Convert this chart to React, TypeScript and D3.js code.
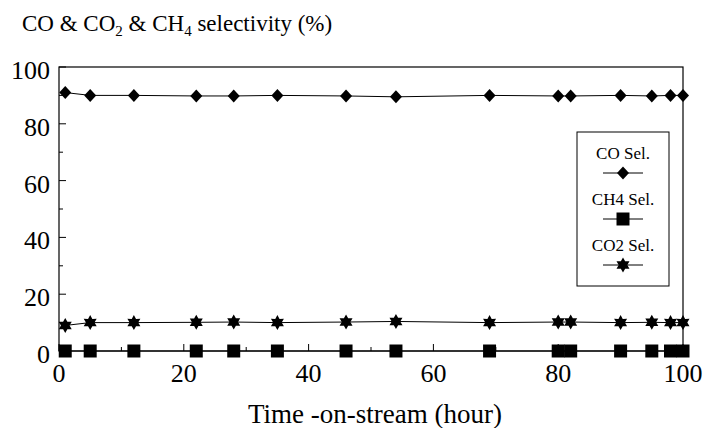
import React from 'react';
import * as d3 from 'd3';

// data
const hours = [1, 5, 12, 22, 28, 35, 46, 54, 69, 80, 82, 90, 95, 98, 100];
const coSel = [91, 90, 90, 89.8, 89.8, 90, 89.8, 89.5, 90, 89.8, 89.8, 90, 89.8, 90, 90];
const ch4Sel = [0, 0, 0, 0, 0, 0, 0, 0, 0, 0, 0, 0, 0, 0, 0];
const co2Sel = [9, 10, 10, 10.1, 10.2, 10, 10.2, 10.4, 10, 10.2, 10.2, 10, 10.1, 10, 10];
const xTicks = [0, 20, 40, 60, 80, 100];
const yTicks = [0, 20, 40, 60, 80, 100];
const legendLabels = ['CO Sel.', 'CH4 Sel.', 'CO2 Sel.'];

const W = 703;
const H = 428;
const margin = { left: 59, right: 20, top: 67, bottom: 77 };
const font = "'Liberation Serif', 'Times New Roman', serif";

const x = d3.scaleLinear().domain([0, 100]).range([margin.left, W - margin.right]);
const y = d3.scaleLinear().domain([0, 100]).range([H - margin.bottom, margin.top]);

const diamond = 'M0,-6.5L6,0L0,6.5L-6,0Z';
const square = 'M-6.5,-6.5H6.5V6.5H-6.5Z';
// six pointed star
const star = (() => {
    const pts: [number, number][] = [];
    for (let i = 0; i < 12; i++) {
        const r = i % 2 === 0 ? 7.5 : 4.3;
        const a = (Math.PI / 6) * i - Math.PI / 2;
        pts.push([r * Math.cos(a), r * Math.sin(a)]);
    }
    return 'M' + pts.map(p => p.join(',')).join('L') + 'Z';
})();

const series = [
    { name: legendLabels[0], values: coSel, marker: diamond },
    { name: legendLabels[1], values: ch4Sel, marker: square },
    { name: legendLabels[2], values: co2Sel, marker: star }
];

const App = () => {
    const line = d3.line<number>()
        .x((d, i) => x(hours[i]))
        .y(d => y(d));
    const minorY = d3.range(10, 100, 20);
    const minorX = d3.range(10, 100, 20);

    return (
        <svg width={W} height={H} style={{ position: 'absolute', left: 0, top: 0, background: '#fff' }}>
            <g fontFamily={font}>
                {/* title */}
                <text x={22} y={31} fontSize={23}>
                    CO &amp; CO<tspan fontSize={15} dy={5}>2</tspan>
                    <tspan dy={-5}> &amp; CH</tspan><tspan fontSize={15} dy={5}>4</tspan>
                    <tspan dy={-5}> selectivity (%)</tspan>
                </text>

                {/* frame */}
                <rect x={x(0)} y={y(100)} width={x(100) - x(0)} height={y(0) - y(100)}
                    fill="none" stroke="#000" strokeWidth={1.2} />

                {/* y ticks */}
                {yTicks.map(t => (
                    <g key={'y' + t}>
                        <line x1={x(0)} x2={x(0) + 7} y1={y(t)} y2={y(t)} stroke="#000" />
                        <text x={x(0) - 9} y={y(t) + 12} fontSize={26} textAnchor="end">{t}</text>
                    </g>
                ))}
                {minorY.map(t => (
                    <line key={'my' + t} x1={x(0)} x2={x(0) + 4} y1={y(t)} y2={y(t)} stroke="#000" />
                ))}

                {/* x ticks */}
                {xTicks.map(t => (
                    <g key={'x' + t}>
                        <line x1={x(t)} x2={x(t)} y1={y(0)} y2={y(0) - 7} stroke="#000" />
                        <text x={x(t)} y={y(0) + 31} fontSize={26} textAnchor="middle">{t}</text>
                    </g>
                ))}
                {minorX.map(t => (
                    <line key={'mx' + t} x1={x(t)} x2={x(t)} y1={y(0)} y2={y(0) - 4} stroke="#000" />
                ))}

                {/* series */}
                {series.map(s => (
                    <g key={s.name}>
                        <path d={line(s.values) || ''} fill="none" stroke="#000" strokeWidth={1} />
                        {s.values.map((v, i) => (
                            <path key={i} d={s.marker} transform={`translate(${x(hours[i])},${y(v)})`} fill="#000" />
                        ))}
                    </g>
                ))}

                {/* legend */}
                <g transform="translate(577,132)">
                    <rect width={92} height={154} fill="#fff" stroke="#000" strokeWidth={1} />
                    {series.map((s, i) => (
                        <g key={s.name} transform={`translate(46,${i * 46})`}>
                            <text y={27} fontSize={17} textAnchor="middle">{s.name}</text>
                            <line x1={-20} x2={20} y1={41} y2={41} stroke="#000" />
                            <path d={s.marker} transform="translate(0,41)" fill="#000" />
                        </g>
                    ))}
                </g>

                {/* x label */}
                <text x={(x(0) + x(100)) / 2 + 4} y={423} fontSize={27} textAnchor="middle">
                    Time -on-stream (hour)
                </text>
            </g>
        </svg>
    );
};

export default App;
